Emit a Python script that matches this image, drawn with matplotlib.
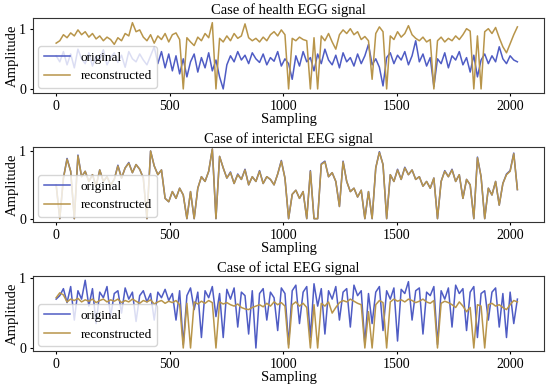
import numpy as np
import matplotlib
matplotlib.use("Agg")
import matplotlib.pyplot as plt

plt.rcParams['font.family'] = ['Liberation Serif', 'DejaVu Serif']

# sampling positions (every 16th sample of 2048)
sampling = np.arange(0, 2048, 16)

health_original = [
    0.55, 0.45, 0.62, 0.40, 0.58, 0.35, 0.66, 0.50,
    0.42, 0.60, 0.38, 0.55, 0.48, 0.65, 0.40, 0.52,
    0.60, 0.44, 0.56, 0.36, 0.62, 0.50, 0.45, 0.58,
    0.48, 0.40, 0.55, 0.70, 0.42, 0.62, 0.35, 0.58,
    0.30, 0.55, 0.25, 0.50, 0.20, 0.45, 0.58, 0.28,
    0.52, 0.35, 0.60, 0.30, 0.48, 0.20, 0.00, 0.40,
    0.55, 0.45, 0.62, 0.48, 0.56, 0.42, 0.60, 0.50,
    0.44, 0.58, 0.40, 0.52, 0.46, 0.62, 0.38, 0.50,
    0.42, 0.16, 0.55, 0.38, 0.62, 0.45, 0.52, 0.30,
    0.58, 0.42, 0.66, 0.48, 0.40, 0.56, 0.35, 0.60,
    0.45, 0.52, 0.38, 0.58, 0.42, 0.55, 0.74, 0.40,
    0.50, 0.36, 0.05, 0.52, 0.60, 0.42, 0.56, 0.48,
    0.62, 0.40, 0.55, 0.80, 0.45, 0.58, 0.38, 0.52,
    0.04, 0.50, 0.42, 0.60, 0.35, 0.55, 0.48, 0.62,
    0.40, 0.52, 0.28, 0.56, 0.20, 0.48, 0.58, 0.42,
    0.55, 0.45, 0.70, 0.50, 0.42, 0.55, 0.48, 0.45,
]
health_reconstructed = [
    0.76, 0.80, 0.90, 0.85, 0.93, 0.88, 0.98, 0.90,
    0.95, 0.86, 0.92, 0.83, 0.88, 0.80, 0.86, 0.82,
    0.74, 0.85, 0.80, 0.92, 0.88, 1.10, 0.95, 0.98,
    0.86, 0.80, 0.90, 0.76, 0.88, 0.82, 0.92, 0.78,
    0.90, 0.93, 0.82, 0.00, 0.85, 0.78, 0.72, 0.86,
    0.80, 0.92, 0.85, 1.10, 0.00, 0.84, 0.78, 0.88,
    0.80, 0.92, 0.84, 0.88, 1.08, 0.85, 0.80, 0.84,
    0.78, 0.86, 0.80, 0.90, 0.95, 0.88, 0.98, 0.90,
    0.00, 0.84, 0.80, 0.86, 0.82, 0.80, 0.00, 0.85,
    0.00, 0.88, 0.80, 0.92, 0.78, 0.66, 0.90, 0.98,
    0.92, 1.00, 0.90, 0.95, 0.82, 0.87, 0.80, 0.16,
    0.92, 1.03, 0.95, 0.00, 0.88, 0.82, 0.95, 0.86,
    0.92, 1.05, 0.90, 0.84, 0.80, 0.86, 0.78, 0.82,
    0.00, 0.80, 0.86, 0.78, 0.84, 0.80, 0.88, 0.82,
    0.90, 1.00, 0.96, 0.00, 0.88, 0.00, 0.95, 1.00,
    0.92, 1.02, 0.85, 0.70, 0.60, 0.75, 0.90, 1.03,
]

interictal_original = [
    0.50, 0.00, 0.60, 0.89, 0.70, 0.00, 0.94, 0.62,
    0.70, 0.55, 0.65, 0.48, 0.72, 0.55, 0.62, 0.50,
    0.58, 0.79, 0.60, 0.75, 0.83, 0.68, 0.80, 0.73,
    0.60, 0.00, 1.00, 0.78, 0.65, 0.72, 0.30, 0.25,
    0.40, 0.30, 0.45, 0.35, 0.00, 0.40, 0.00, 0.45,
    0.62, 0.55, 0.70, 1.03, 0.00, 0.92, 0.75, 0.60,
    0.69, 0.52, 0.66, 0.58, 0.73, 0.50, 0.62, 0.55,
    0.71, 0.52, 0.62, 0.58, 0.50, 0.66, 0.86, 0.60,
    0.00, 0.36, 0.42, 0.30, 0.40, 0.00, 0.71, 0.00,
    0.00, 0.81, 0.85, 0.62, 0.68, 0.55, 0.18, 0.85,
    0.55, 0.40, 0.45, 0.32, 0.42, 0.00, 0.40, 0.00,
    0.75, 0.99, 0.80, 0.00, 0.65, 0.55, 0.73, 0.58,
    0.76, 0.65, 0.72, 0.58, 0.62, 0.48, 0.55, 0.45,
    0.60, 0.00, 0.55, 0.71, 0.62, 0.73, 0.55, 0.65,
    0.30, 0.58, 0.50, 0.00, 0.91, 0.62, 0.00, 0.45,
    0.35, 0.55, 0.20, 0.52, 0.66, 0.71, 0.97, 0.43,
]
interictal_reconstructed = [
    0.50, 0.00, 0.60, 0.88, 0.70, 0.00, 0.93, 0.62,
    0.70, 0.55, 0.65, 0.48, 0.72, 0.55, 0.62, 0.50,
    0.58, 0.78, 0.60, 0.75, 0.82, 0.68, 0.80, 0.73,
    0.60, 0.00, 1.00, 0.78, 0.65, 0.72, 0.30, 0.25,
    0.40, 0.30, 0.45, 0.35, 0.00, 0.40, 0.00, 0.45,
    0.62, 0.55, 0.70, 1.03, 0.00, 0.92, 0.75, 0.60,
    0.68, 0.52, 0.65, 0.58, 0.72, 0.50, 0.62, 0.55,
    0.70, 0.52, 0.62, 0.58, 0.50, 0.66, 0.85, 0.60,
    0.00, 0.36, 0.42, 0.30, 0.40, 0.00, 0.70, 0.00,
    0.00, 0.80, 0.84, 0.62, 0.68, 0.55, 0.18, 0.84,
    0.55, 0.40, 0.45, 0.32, 0.42, 0.00, 0.40, 0.00,
    0.75, 0.98, 0.80, 0.00, 0.65, 0.55, 0.72, 0.58,
    0.75, 0.65, 0.72, 0.58, 0.62, 0.48, 0.55, 0.45,
    0.60, 0.00, 0.55, 0.70, 0.62, 0.72, 0.55, 0.65,
    0.30, 0.58, 0.50, 0.00, 0.90, 0.62, 0.00, 0.45,
    0.35, 0.55, 0.20, 0.52, 0.65, 0.70, 0.96, 0.43,
]

ictal_original = [
    0.70, 0.75, 0.85, 0.65, 0.88, 0.40, 0.82, 0.70,
    0.97, 0.60, 0.85, 0.35, 0.80, 0.72, 0.88, 0.45,
    0.78, 0.82, 0.50, 0.86, 0.70, 0.80, 0.38, 0.75,
    0.82, 0.66, 0.78, 0.40, 0.80, 0.72, 0.84, 0.68,
    0.78, 0.40, 0.82, 0.05, 0.75, 0.86, 0.55, 0.80,
    0.15, 0.82, 0.72, 0.88, 0.45, 0.78, 0.15, 0.84,
    0.70, 0.86, 0.30, 0.80, 0.75, 0.20, 0.82, 0.00,
    0.78, 0.85, 0.40, 0.80, 0.72, 0.25, 0.86, 0.78,
    0.05, 0.82, 0.90, 0.35, 0.80, 0.88, 0.15, 0.92,
    0.60, 0.85, 0.20, 0.82, 0.70, 0.88, 0.40, 0.80,
    0.85, 0.30, 0.90, 0.75, 0.82, 0.05, 0.78, 0.35,
    0.80, 0.88, 0.25, 0.82, 0.70, 0.86, 0.10, 0.84,
    0.78, 0.95, 0.40, 0.82, 0.86, 0.20, 0.80, 0.75,
    0.88, 0.05, 0.82, 0.70, 0.86, 0.30, 0.90, 0.78,
    0.85, 0.25, 0.80, 0.88, 0.15, 0.78, 0.82, 0.40,
    0.80, 0.86, 0.30, 0.78, 0.15, 0.80, 0.35, 0.70,
]
ictal_reconstructed = [
    0.72, 0.79, 0.76, 0.66, 0.70, 0.68, 0.71, 0.66,
    0.69, 0.67, 0.70, 0.65, 0.68, 0.70, 0.66, 0.69,
    0.67, 0.70, 0.65, 0.68, 0.66, 0.70, 0.67, 0.64,
    0.68, 0.66, 0.69, 0.63, 0.66, 0.68, 0.64, 0.67,
    0.65, 0.68, 0.62, 0.00, 0.64, 0.00, 0.66, 0.63,
    0.67, 0.64, 0.68, 0.65, 0.00, 0.66, 0.63, 0.65,
    0.62, 0.60, 0.63, 0.58, 0.56, 0.55, 0.58, 0.60,
    0.62, 0.59, 0.64, 0.60, 0.66, 0.62, 0.65, 0.60,
    0.00, 0.62, 0.66, 0.60, 0.64, 0.58, 0.00, 0.62,
    0.00, 0.64, 0.60, 0.66, 0.50, 0.58, 0.65, 0.68,
    0.66, 0.70, 0.67, 0.64, 0.62, 0.00, 0.52, 0.00,
    0.62, 0.68, 0.65, 0.00, 0.66, 0.70, 0.67, 0.69,
    0.66, 0.70, 0.68, 0.65, 0.67, 0.70, 0.66, 0.64,
    0.68, 0.00, 0.64, 0.67, 0.65, 0.62, 0.58, 0.66,
    0.60, 0.52, 0.58, 0.00, 0.62, 0.60, 0.00, 0.62,
    0.64, 0.60, 0.62, 0.58, 0.55, 0.62, 0.68, 0.66,
]

titles = ["Case of health EGG signal",
          "Case of interictal EEG signal",
          "Case of ictal EEG signal"]
series = [(health_original, health_reconstructed),
          (interictal_original, interictal_reconstructed),
          (ictal_original, ictal_reconstructed)]
ylims = [(-0.066, 1.18), (-0.05, 1.06), (-0.045, 1.03)]

blue = "#4F5CC4"
gold = "#B8954A"

fig, axes = plt.subplots(3, 1, figsize=(5.5, 3.88), dpi=100)
fig.subplots_adjust(left=0.06, right=0.989, top=0.954, bottom=0.095, hspace=0.72)

for ax, title, (orig, rec), yl in zip(axes, titles, series, ylims):
    ax.plot(sampling, orig, color=blue, lw=1.1, label="original")
    ax.plot(sampling, rec, color=gold, lw=1.1, label="reconstructed")
    ax.set_title(title, fontsize=10.5, pad=3)
    ax.set_xlabel("Sampling", fontsize=10.5, labelpad=0)
    ax.set_ylabel("Amplitude", fontsize=10.5, labelpad=0)
    ax.set_xlim(-102, 2149)
    ax.set_ylim(*yl)
    ax.set_xticks([0, 500, 1000, 1500, 2000])
    ax.set_yticks([0, 1])
    ax.tick_params(labelsize=10, length=2, pad=3)
    for sp in ax.spines.values():
        sp.set_color("#333333")
    ax.legend(loc="lower left", fontsize=9.5, borderaxespad=0.4)

fig.savefig("out.png", dpi=100)
